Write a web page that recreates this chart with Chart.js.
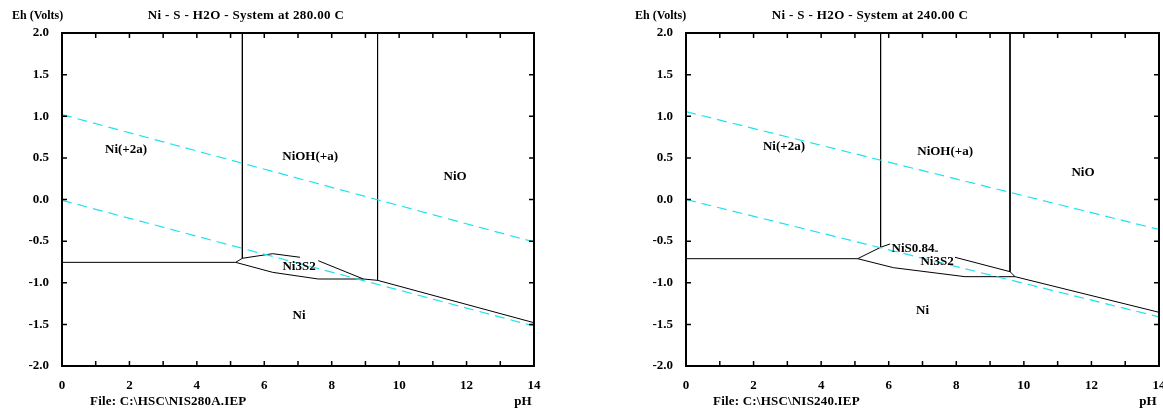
<!DOCTYPE html>
<html lang="en">
<head>
<meta charset="UTF-8" />
<title>Ni - S - H2O Pourbaix</title>
<script src="https://cdn.jsdelivr.net/npm/chart.js"></script>
<style>
  html, body { margin: 0; padding: 0; background: #fff; overflow: hidden; }
  .box { position: absolute; top: 0; height: 409px; }
  #left { left: 0; width: 560px; }
  #right { left: 600px; width: 590px; }
</style>
</head>
<body>
<div class="box" id="left"><canvas id="c280" width="560" height="409"></canvas></div>
<div class="box" id="right"><canvas id="c240" width="590" height="409"></canvas></div>

<script>
  // axis ticks
  const phTicks = [0, 1, 2, 3, 4, 5, 6, 7, 8, 9, 10, 11, 12, 13, 14];
  const ehTicks = [-2.0, -1.5, -1.0, -0.5, 0.0, 0.5, 1.0, 1.5, 2.0];

  // 280 C diagram : boundaries as [pH, Eh]
  const n280Base    = [[0, -0.755], [5.15, -0.755]];
  const n280Vert1   = [[5.35, 2.0], [5.35, -0.706]];
  const n280S2Top   = [[5.15, -0.755], [5.35, -0.706], [6.25, -0.651], [7.06, -0.694]];
  const n280S2Top2  = [[7.60, -0.735], [8.94, -0.955]];
  const n280Vert2   = [[9.36, 2.0], [9.36, -0.971]];
  const n280Bottom  = [[5.15, -0.755], [6.25, -0.875], [7.60, -0.955], [8.94, -0.955], [9.36, -0.971], [14, -1.48]];
  const n280WaterO2 = [[0, 1.02], [14, -0.51]];
  const n280WaterH2 = [[0, -0.01], [14, -1.52]];
  const n280Names   = ["Ni(+2a)", "NiOH(+a)", "NiO", "Ni3S2", "Ni"];
  const n280NameAt  = [[1.9, 0.60], [7.36, 0.51], [11.66, 0.27], [7.03, -0.81], [7.03, -1.39]];

  // 240 C diagram
  const n240Base    = [[0, -0.711], [5.08, -0.711]];
  const n240NiS     = [[5.08, -0.711], [5.76, -0.574], [6.04, -0.534]];
  const n240NiSEnd  = [[7.36, -0.62], [7.46, -0.62]];
  const n240Vert1   = [[5.76, 2.0], [5.76, -0.574]];
  const n240S2Top   = [[7.96, -0.694], [9.59, -0.867], [9.74, -0.927]];
  const n240Vert2   = [[9.59, 2.0], [9.59, -0.867]];
  const n240Bottom  = [[5.08, -0.711], [6.14, -0.819], [8.26, -0.927], [9.74, -0.927], [14, -1.355]];
  const n240WaterO2 = [[0, 1.055], [14, -0.36]];
  const n240WaterH2 = [[0, 0.0], [14, -1.41]];
  const n240Names   = ["Ni(+2a)", "NiOH(+a)", "NiO", "NiS0.84", "Ni3S2", "Ni"];
  const n240NameAt  = [[2.9, 0.64], [7.67, 0.57], [11.75, 0.32], [6.72, -0.586], [7.43, -0.747], [7.0, -1.335]];

  const SERIF = '"Liberation Serif", "DejaVu Serif", serif';
  const CYAN = '#1ee3ef';

  function pts(arr) { return arr.map(p => ({ x: p[0], y: p[1] })); }

  function solid(arr) {
    return { data: pts(arr), borderColor: '#000', borderWidth: 1, showLine: true, pointRadius: 0, fill: false, tension: 0 };
  }
  function dashed(arr) {
    return { data: pts(arr), borderColor: CYAN, borderWidth: 1.2, borderDash: [10, 6], showLine: true, pointRadius: 0, fill: false, tension: 0 };
  }

  // frame, inward ticks, region names and header/footer text
  const decor = {
    id: 'decor',
    afterDraw(chart) {
      const o = chart.options.plugins.decor;
      const ctx = chart.ctx;
      const a = chart.chartArea;
      const xs = chart.scales.x, ys = chart.scales.y;
      ctx.save();
      ctx.strokeStyle = '#000';
      ctx.lineWidth = 2;
      ctx.strokeRect(a.left, a.top, a.right - a.left, a.bottom - a.top);
      ctx.lineWidth = 1.5;
      ctx.beginPath();
      phTicks.forEach(v => {
        const px = xs.getPixelForValue(v);
        ctx.moveTo(px, a.bottom); ctx.lineTo(px, a.bottom - 5);
        ctx.moveTo(px, a.top); ctx.lineTo(px, a.top + 5);
      });
      ehTicks.forEach(v => {
        const py = ys.getPixelForValue(v);
        ctx.moveTo(a.left, py); ctx.lineTo(a.left + 5, py);
        ctx.moveTo(a.right, py); ctx.lineTo(a.right - 5, py);
      });
      ctx.stroke();

      ctx.fillStyle = '#000';
      ctx.font = 'bold 13px ' + SERIF;
      ctx.textAlign = 'center';
      ctx.textBaseline = 'middle';
      o.names.forEach((n, i) => {
        ctx.fillText(n, xs.getPixelForValue(o.at[i][0]), ys.getPixelForValue(o.at[i][1]));
      });

      ctx.font = 'bold 12px ' + SERIF;
      ctx.textAlign = 'left';
      ctx.fillText('Eh (Volts)', o.ehX, 16);
      ctx.font = 'bold 13px ' + SERIF;
      ctx.letterSpacing = '0.35px';
      ctx.textAlign = 'center';
      ctx.fillText(o.title, o.titleX, 16);
      ctx.letterSpacing = '0.2px';
      ctx.textAlign = 'left';
      ctx.fillText(o.file, o.fileX, 402);
      ctx.letterSpacing = '0px';
      ctx.textAlign = 'center';
      ctx.fillText('pH', a.right - 11, 402);
      ctx.restore();
    }
  };

  function makeChart(id, datasets, yWidth, padRight, extra) {
    return new Chart(document.getElementById(id), {
      type: 'scatter',
      data: { datasets: datasets },
      options: {
        responsive: false,
        animation: false,
        layout: { padding: { top: 33, right: padRight, left: 0, bottom: 0 } },
        plugins: { legend: { display: false }, tooltip: { enabled: false }, decor: extra },
        scales: {
          x: {
            type: 'linear', min: 0, max: 14,
            afterBuildTicks: s => { s.ticks = phTicks.map(v => ({ value: v })); },
            afterFit: s => { s.height = 43; },
            grid: { display: false, drawTicks: false },
            border: { display: false },
            ticks: {
              autoSkip: false, maxRotation: 0, padding: 12, color: '#000',
              font: { family: SERIF, size: 13, weight: 'bold' },
              callback: v => (v % 2 === 0 ? String(v) : '')
            }
          },
          y: {
            type: 'linear', min: -2, max: 2,
            afterBuildTicks: s => { s.ticks = ehTicks.map(v => ({ value: v })); },
            afterFit: s => { s.width = yWidth; },
            grid: { display: false, drawTicks: false },
            border: { display: false },
            ticks: {
              padding: 13, color: '#000',
              font: { family: SERIF, size: 13, weight: 'bold' },
              callback: v => Number(v).toFixed(1)
            }
          }
        }
      },
      plugins: [decor]
    });
  }

  makeChart('c280', [
    dashed(n280WaterO2), dashed(n280WaterH2),
    solid(n280Base), solid(n280Vert1), solid(n280S2Top), solid(n280S2Top2),
    solid(n280Vert2), solid(n280Bottom)
  ], 62, 26, {
    names: n280Names, at: n280NameAt,
    title: 'Ni - S - H2O - System at 280.00 C', titleX: 246, ehX: 12,
    file: 'File: C:\\HSC\\NIS280A.IEP', fileX: 90
  });

  makeChart('c240', [
    dashed(n240WaterO2), dashed(n240WaterH2),
    solid(n240Base), solid(n240NiS), solid(n240NiSEnd), solid(n240Vert1),
    solid(n240S2Top), solid(n240Vert2), solid(n240Bottom)
  ], 86, 31, {
    names: n240Names, at: n240NameAt,
    title: 'Ni - S - H2O - System at 240.00 C', titleX: 270, ehX: 35,
    file: 'File: C:\\HSC\\NIS240.IEP', fileX: 113
  });
</script>
</body>
</html>
